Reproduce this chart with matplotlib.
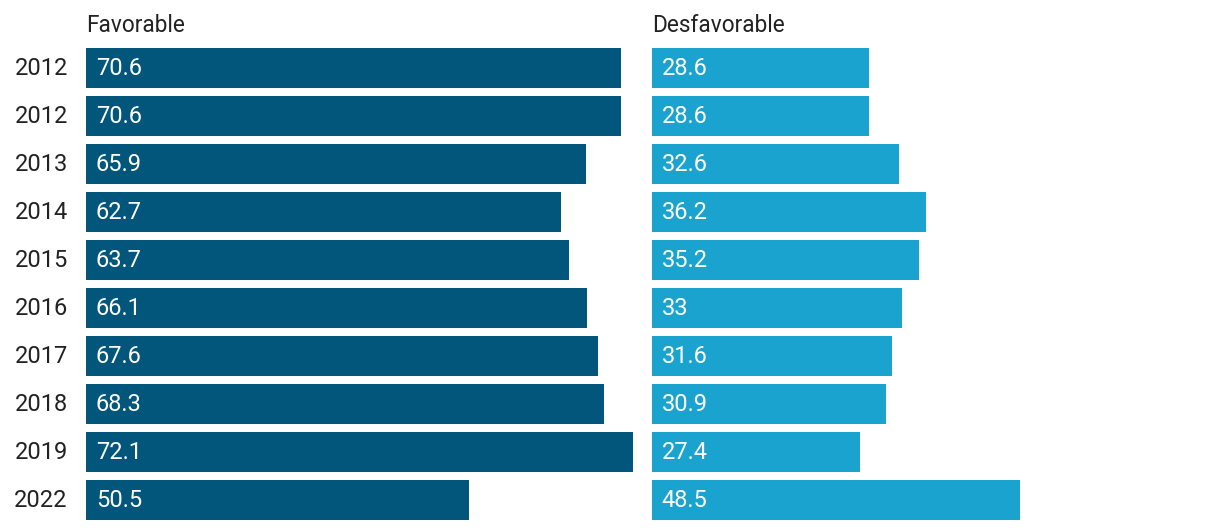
import matplotlib.pyplot as plt

plt.rcParams['font.family'] = ['Roboto', 'DejaVu Sans']

years = ['2012', '2012', '2013', '2014', '2015', '2016', '2017', '2018', '2019', '2022']
favorable = [70.6, 70.6, 65.9, 62.7, 63.7, 66.1, 67.6, 68.3, 72.1, 50.5]
desfavorable = [28.6, 28.6, 32.6, 36.2, 35.2, 33, 31.6, 30.9, 27.4, 48.5]

W, H = 1220, 530
px_per_unit = 7.58
fig = plt.figure(figsize=(W / 100, H / 100), dpi=100)

top, bottom = 48, 520
row = 48
ylim = (len(years) - 1 + 20 / row, -20 / row)


def panel(x0, x1, values, color, title, show_years):
    ax = fig.add_axes([x0 / W, (H - bottom) / H, (x1 - x0) / W, (bottom - top) / H])
    ax.barh(range(len(values)), values, height=40 / row, color=color, left=0)
    ax.set_xlim(0, (x1 - x0) / px_per_unit)
    ax.set_ylim(*ylim)
    ax.axis('off')
    for i, v in enumerate(values):
        lbl = ('%g' % v)
        ax.text(1.3, i + 0.02, lbl, color='white', fontsize=17, va='center', ha='left')
    ax.text(0, -20 / row - 0.33, title, fontsize=16.3, color='#222222',
            ha='left', va='baseline', transform=ax.transData)
    if show_years:
        for i, y in enumerate(years):
            ax.text(-2.4, i + 0.02, y, fontsize=17, color='#222222', va='center', ha='right')
    return ax


panel(86, 640, favorable, '#02567b', 'Favorable', True)
panel(652, 1210, desfavorable, '#1aa3ce', 'Desfavorable', False)

fig.savefig('out.png', dpi=100)
